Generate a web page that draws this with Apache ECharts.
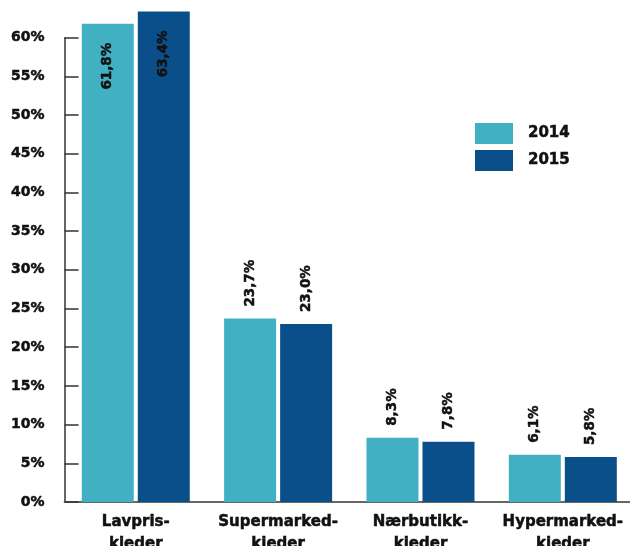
<!DOCTYPE html>
<html><head><meta charset="utf-8">
<script src="https://cdn.jsdelivr.net/npm/echarts@6/dist/echarts.min.js"></script>
<style>html,body{margin:0;padding:0;background:#fff}#c{width:630px;height:546px}</style>
</head><body><div id="c"></div>
<script>
const categories = ["Lavpris-\nkieder", "Supermarked-\nkieder", "Nærbutikk-\nkieder", "Hypermarked-\nkieder"];
const seriesNames = ["2014", "2015"];
const values2014 = [61.8, 23.7, 8.3, 6.1];
const values2015 = [63.4, 23.0, 7.8, 5.8];
const yTicks = [0, 5, 10, 15, 20, 25, 30, 35, 40, 45, 50, 55, 60];

const colors = ["#42b0c3", "#0a4f8a"];
const font = "DejaVu Sans";
const heavy = {textBorderColor: '#111', textBorderWidth: 0.5};
function fmt(v){ return v.toFixed(1).replace('.', ',') + '%'; }
function mkData(arr){
  return arr.map((v, i) => {
    const inside = i === 0;
    return {
      value: v,
      label: inside ? {
        position: 'insideTop', rotate: 90, align: 'right', verticalAlign: 'middle', distance: 19
      } : {
        position: 'top', rotate: 90, align: 'left', verticalAlign: 'middle', distance: 12
      }
    };
  });
}
const labelBase = Object.assign({
  show: true, color: '#111', fontFamily: font, fontWeight: 'bold', fontSize: 13.5,
  formatter: p => fmt(p.value)
}, heavy);
const chart = echarts.init(document.getElementById('c'), null, {renderer: 'canvas'});
chart.setOption({
  animation: false,
  textStyle: {fontFamily: font},
  grid: {left: 64.6, right: -4, top: 37.7, bottom: 44, containLabel: false, outerBoundsMode: 'none'},
  legend: {
    orient: 'vertical', left: 475, top: 123, padding: 0, itemWidth: 38, itemHeight: 21, itemGap: 6,
    icon: 'rect', data: seriesNames,
    textStyle: Object.assign({fontFamily: font, fontWeight: 'bold', fontSize: 15, color: '#111', padding: [0, 0, 0, 10]}, heavy)
  },
  xAxis: {
    type: 'category', data: categories,
    axisLine: {lineStyle: {color: '#666', width: 2}},
    axisTick: {inside: true, length: 12, lineStyle: {color: '#333', width: 1.5}},
    axisLabel: Object.assign({interval: 0, margin: 9, color: '#111', fontFamily: font, fontWeight: 'bold', fontSize: 15, lineHeight: 22}, heavy)
  },
  yAxis: {
    type: 'value', min: yTicks[0], max: yTicks[yTicks.length - 1], interval: yTicks[1] - yTicks[0],
    splitLine: {show: false},
    axisLine: {show: true, lineStyle: {color: '#333', width: 1.5}},
    axisTick: {show: true, inside: true, length: 14, lineStyle: {color: '#333', width: 1.5}},
    axisLabel: Object.assign({margin: 20, color: '#111', fontFamily: font, fontWeight: 'bold', fontSize: 14, formatter: v => v + '%'}, heavy)
  },
  series: [
    {name: seriesNames[0], type: 'bar', data: mkData(values2014), barWidth: 52, barGap: '7.7%', clip: false,
     itemStyle: {color: colors[0]}, label: labelBase},
    {name: seriesNames[1], type: 'bar', data: mkData(values2015), barWidth: 52, barGap: '7.7%', clip: false,
     itemStyle: {color: colors[1]}, label: labelBase}
  ]
});
</script></body></html>
